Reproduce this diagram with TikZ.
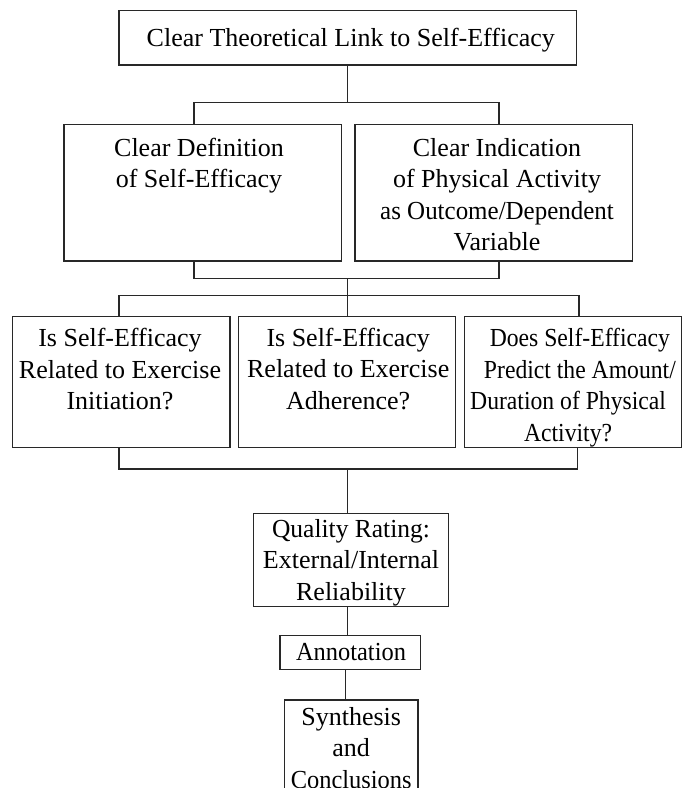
\documentclass[tikz,border=0pt]{standalone}
\usepackage{fontspec}
\setmainfont{Liberation Serif}
\usepackage{graphicx}
\newcommand{\mlines}[1]{\begin{tabular}[t]{@{}c@{}}#1\end{tabular}}
\newcommand{\sqz}[2]{\scalebox{#1}[1]{#2}}
\definecolor{linec}{RGB}{40,40,40}
\begin{document}
\begin{tikzpicture}[x=1pt,y=-1pt,
  box/.style={draw=linec, line width=1.2pt, inner sep=0pt, rectangle},
  lbl/.style={inner sep=0pt, anchor=base, font=\fontsize{26}{31.5}\selectfont},
  conn/.style={draw=linec, line width=1.2pt}]
\clip (0,0) rectangle (685,788);
\fill[white] (0,0) rectangle (685,788);

% boxes
\node[box, minimum width=457.7pt, minimum height=54.3pt] (t0) at (347.85,37.85) {};
\node[box, minimum width=277.7pt, minimum height=136.3pt] (d1) at (202.85,192.85) {};
\node[box, minimum width=277.3pt, minimum height=136.3pt] (d2) at (493.65,192.85) {};
\node[box, minimum width=217.7pt, minimum height=131pt] (q1) at (121.15,382.2) {};
\node[box, minimum width=217.4pt, minimum height=131pt] (q2) at (347,382.2) {};
\node[box, minimum width=217.4pt, minimum height=131pt] (q3) at (573,382.2) {};
\node[box, minimum width=195.4pt, minimum height=93.4pt] (qr) at (351,560) {};
\node[box, minimum width=140.3pt, minimum height=33.6pt] (an) at (350.15,652.5) {};
\node[box, minimum width=133.7pt, minimum height=110pt] (sy) at (351.15,755) {};

% texts
\node[lbl] (t0txt) at (350.8,46) {Clear Theoretical Link to Self-Efficacy};
\node[lbl] (d1txt) at (199,156) {\mlines{Clear Definition\\of Self-Efficacy}};
\node[lbl] (d2txt) at (497,156) {\mlines{Clear Indication\\of Physical Activity\\\sqz{0.96}{as Outcome/Dependent}\\Variable}};
\node[lbl] (q1txt) at (120,346.7) {\mlines{Is Self-Efficacy\\Related to Exercise\\Initiation?}};
\node[lbl] (q2txt) at (348.2,346.3) {\mlines{Is Self-Efficacy\\Related to Exercise\\Adherence?}};
\node[lbl] (q3txt) at (574,346.7) {\sqz{0.91}{\mlines{\hspace*{13pt}Does Self-Efficacy\\\hspace*{13pt}Predict the Amount/\\Duration of Physical\hspace*{13pt}\\Activity?\hspace*{13pt}}}};
\node[lbl] (qrtxt) at (351,537.3) {\mlines{\sqz{0.98}{Quality Rating:}\\External/Internal\\Reliability}};
\node[lbl] (antxt) at (351,660) {\sqz{0.94}{Annotation}};
\node[lbl] (sytxt) at (351.2,725) {\mlines{Synthesis\\and\\\sqz{0.94}{Conclusions}}};

% connector points
\coordinate (j0) at (347.3,102.7);
\coordinate (d1a) at (194,124.7);
\coordinate (d2a) at (499,124.7);
\coordinate (d1b) at (194,261);
\coordinate (d2b) at (499,261);
\coordinate (j1) at (347.5,278.3);
\coordinate (j2) at (347.5,295.7);
\coordinate (q1a) at (119,316.7);
\coordinate (q3a) at (579,316.7);
\coordinate (q1b) at (119,447.7);
\coordinate (q3b) at (577.7,447.7);
\coordinate (j3) at (347.3,469);
\coordinate (k) at (345.7,0);

% connectors
\draw[conn] (j0 |- t0.south) -- (j0);
\draw[conn] (d1a) |- (j0) -| (d2a);
\draw[conn] (d1b) |- (j1) -| (d2b);
\draw[conn] (j1) -- (j1 |- q2.north);
\draw[conn] (q1a) |- (j2) -| (q3a);
\draw[conn] (q1b) |- (j3) -| (q3b);
\draw[conn] (j3) -- (j3 |- qr.north);
\draw[conn] (j3 |- qr.south) -- (j3 |- an.north);
\draw[conn] (k |- an.south) -- (k |- sy.north);
\end{tikzpicture}
\end{document}
